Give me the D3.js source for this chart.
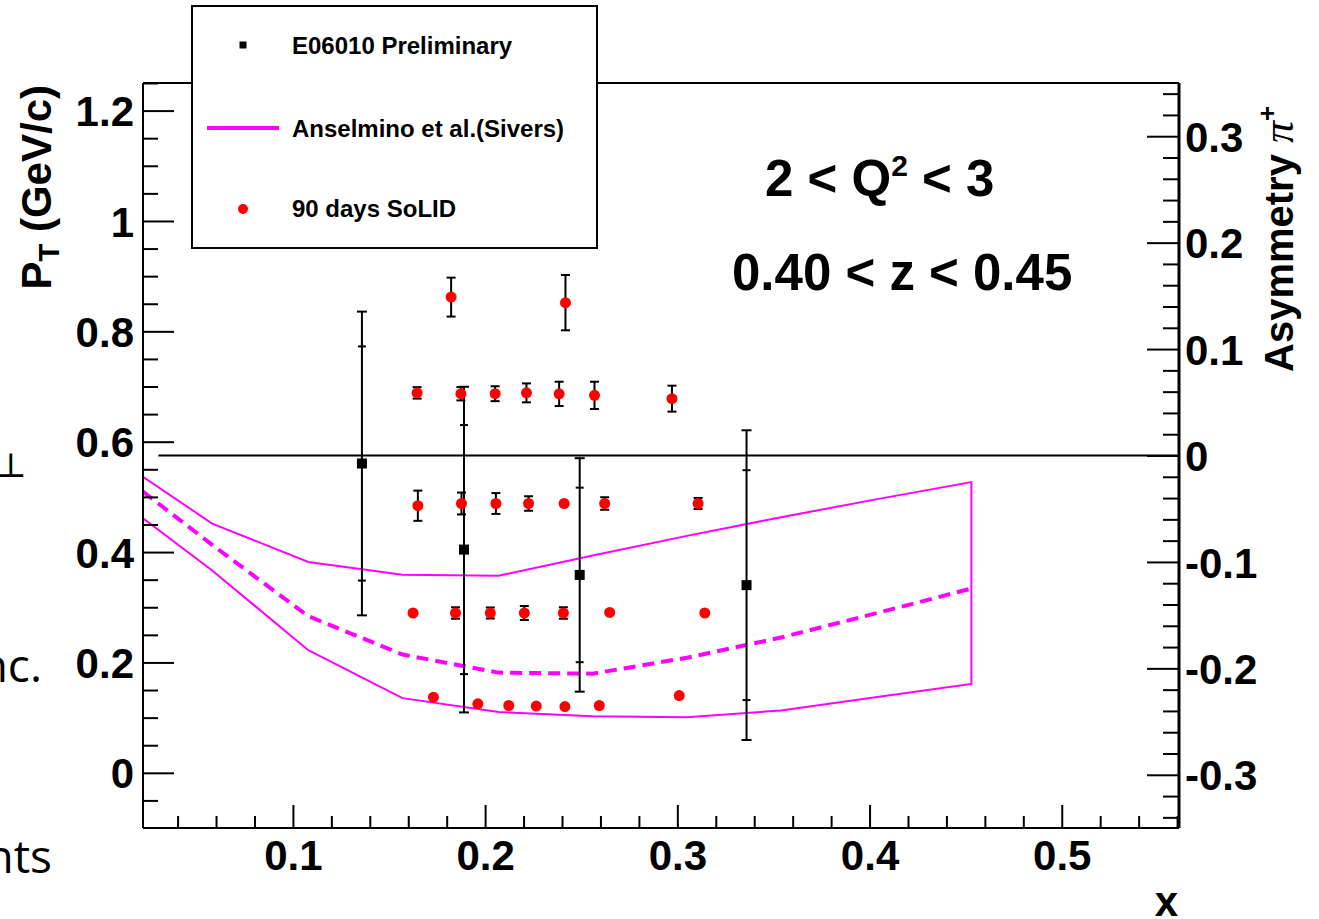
<!DOCTYPE html>
<html>
<head>
<meta charset="utf-8">
<script src="https://cdn.jsdelivr.net/npm/d3@7"></script>
<style>
  html, body { margin: 0; padding: 0; background: #fff; }
  svg { display: block; }
  text { font-family: "Liberation Sans", Arial, sans-serif; font-weight: bold; }
</style>
</head>
<body>
<svg id="chart" width="1319" height="919"></svg>
<script>
// tick values
const xMajorTicks = [0.1, 0.2, 0.3, 0.4, 0.5];
const ptMajorTicks = [0, 0.2, 0.4, 0.6, 0.8, 1, 1.2];
const asymMajorTicks = [-0.3, -0.2, -0.1, 0, 0.1, 0.2, 0.3];

// Anselmino et al. (Sivers) band, asymmetry vs x
const bandX = [0.022, 0.058, 0.108, 0.157, 0.207, 0.256, 0.305, 0.354, 0.404, 0.453];
const bandUpper = [-0.020, -0.064, -0.100, -0.112, -0.113, -0.094, -0.0755, -0.058, -0.041, -0.025];
const bandLower = [-0.059, -0.108, -0.183, -0.228, -0.241, -0.245, -0.246, -0.2395, -0.227, -0.2146];
const bandCentral = [-0.034, -0.084, -0.151, -0.187, -0.204, -0.205, -0.190, -0.171, -0.148, -0.125];

// E06010 preliminary (asymmetry axis)
const e06X = [0.1359, 0.1890, 0.2492, 0.3360];
const e06Asym = [-0.0075, -0.0884, -0.1122, -0.1218];
const e06Stat = [0.110, 0.117, 0.082, 0.108];
const e06Total = [0.1427, 0.153, 0.1097, 0.1455];

// 90 days SoLID projections: placed at P_T, error in asymmetry units
const solidX = [
  0.1823, 0.2418,
  0.1646, 0.1874, 0.2052, 0.2215, 0.2385, 0.2569, 0.2972,
  0.1650, 0.1877, 0.2056, 0.2226, 0.2411, 0.2622, 0.3108,
  0.1625, 0.1846, 0.2027, 0.2204, 0.2407, 0.2648, 0.3143,
  0.1731, 0.1962, 0.2123, 0.2266, 0.2415, 0.2594, 0.3010
];
const solidPt = [
  0.862, 0.852,
  0.6885, 0.687, 0.687, 0.6885, 0.6867, 0.684, 0.678,
  0.484, 0.488, 0.488, 0.488, 0.488, 0.488, 0.488,
  0.2896, 0.2896, 0.2896, 0.2896, 0.2896, 0.2907, 0.2896,
  0.137, 0.125, 0.122, 0.121, 0.120, 0.122, 0.140
];
const solidErr = [
  0.0183, 0.026,
  0.0054, 0.0063, 0.007, 0.0089, 0.0114, 0.0128, 0.0122,
  0.0142, 0.0103, 0.0098, 0.0068, 0.0047, 0.0059, 0.0052,
  0.002, 0.0054, 0.0052, 0.0066, 0.0054, 0.002, 0.002,
  0.002, 0.002, 0.002, 0.002, 0.002, 0.002, 0.002
];

const zeroLineStart = 0.03;

const frame = { left: 143, right: 1179, top: 83, bottom: 828 };
const magenta = "#ff00ff";
const red = "#ff0000";

const svg = d3.select("#chart");
svg.append("rect").attr("width", 1319).attr("height", 919).attr("fill", "#fff");

const x = d3.scaleLinear().domain([0.022, 0.561]).range([frame.left, frame.right]);
const yPt = d3.scaleLinear().domain([-0.1, 1.25]).range([frame.bottom, frame.top]);
const yAsym = d3.scaleLinear().domain([-0.35, 0.35]).range([frame.bottom, frame.top]);

// slide text peeking in from the left edge (cut off in the original too)
svg.append("text").attr("x", 42).attr("y", 682).attr("text-anchor", "end")
  .style("font-family", "'Open Sans', sans-serif").style("font-weight", "normal")
  .attr("font-size", 46).text("nc.");
svg.append("text").attr("x", 52).attr("y", 873).attr("text-anchor", "end")
  .style("font-family", "'Open Sans', sans-serif").style("font-weight", "normal")
  .attr("font-size", 46).text("nts");
svg.append("text").attr("x", -5).attr("y", 477)
  .style("font-family", "'DejaVu Serif', serif").style("font-weight", "normal")
  .attr("font-size", 34).text("⊥");

svg.append("clipPath").attr("id", "plot-clip")
  .append("rect")
  .attr("x", frame.left).attr("y", frame.top)
  .attr("width", frame.right - frame.left).attr("height", frame.bottom - frame.top);

const plot = svg.append("g").attr("clip-path", "url(#plot-clip)");

// theory band outline
const bandPts = bandX.map((d, i) => [x(d), yAsym(bandUpper[i])])
  .concat(bandX.map((d, i) => [x(d), yAsym(bandLower[i])]).reverse());
plot.append("path")
  .attr("d", d3.line()(bandPts) + "Z")
  .attr("fill", "none")
  .attr("stroke", magenta)
  .attr("stroke-width", 2);

plot.append("path")
  .attr("d", d3.line()(bandX.map((d, i) => [x(d), yAsym(bandCentral[i])])))
  .attr("fill", "none")
  .attr("stroke", magenta)
  .attr("stroke-width", 4)
  .attr("stroke-dasharray", "12,7");

// zero asymmetry line
plot.append("line")
  .attr("x1", x(zeroLineStart)).attr("x2", frame.right)
  .attr("y1", yAsym(0)).attr("y2", yAsym(0))
  .attr("stroke", "#000").attr("stroke-width", 2);

// E06010 error bars
const asymPx = (v) => yAsym(0) - yAsym(v);
const e06 = e06X.map((d, i) => ({ x: d, y: e06Asym[i], stat: e06Stat[i], tot: e06Total[i] }));
const e06g = plot.append("g").selectAll("g").data(e06).join("g")
  .attr("transform", (d) => `translate(${x(d.x)},${yAsym(d.y)})`);
e06g.append("line")
  .attr("y1", (d) => -asymPx(d.tot)).attr("y2", (d) => asymPx(d.tot))
  .attr("stroke", "#000").attr("stroke-width", 2);
[-1, 1].forEach((s) => {
  e06g.append("line")
    .attr("x1", -5).attr("x2", 5)
    .attr("y1", (d) => s * asymPx(d.tot)).attr("y2", (d) => s * asymPx(d.tot))
    .attr("stroke", "#000").attr("stroke-width", 2);
  e06g.append("line")
    .attr("x1", -4).attr("x2", 4)
    .attr("y1", (d) => s * asymPx(d.stat)).attr("y2", (d) => s * asymPx(d.stat))
    .attr("stroke", "#000").attr("stroke-width", 2);
});

// SoLID error bars and markers
const solid = solidX.map((d, i) => ({ x: d, pt: solidPt[i], err: solidErr[i] }));
const rDot = 5.5;
const solidg = plot.append("g").selectAll("g").data(solid).join("g")
  .attr("transform", (d) => `translate(${x(d.x)},${yPt(d.pt)})`);
solidg.filter((d) => asymPx(d.err) > rDot)
  .call((g) => g.append("line")
    .attr("y1", (d) => -asymPx(d.err)).attr("y2", (d) => asymPx(d.err))
    .attr("stroke", "#000").attr("stroke-width", 2))
  .call((g) => [-1, 1].forEach((s) => g.append("line")
    .attr("x1", -4.5).attr("x2", 4.5)
    .attr("y1", (d) => s * asymPx(d.err)).attr("y2", (d) => s * asymPx(d.err))
    .attr("stroke", "#000").attr("stroke-width", 2)));

e06g.append("rect")
  .attr("x", -5).attr("y", -5).attr("width", 10).attr("height", 10)
  .attr("fill", "#000");

solidg.append("circle").attr("r", rDot).attr("fill", red);

// frame
const axisG = svg.append("g");
axisG.append("line").attr("x1", frame.left).attr("x2", frame.right)
  .attr("y1", frame.top).attr("y2", frame.top).attr("stroke", "#000").attr("stroke-width", 2);
axisG.append("line").attr("x1", frame.left).attr("x2", frame.right)
  .attr("y1", frame.bottom).attr("y2", frame.bottom).attr("stroke", "#000").attr("stroke-width", 2);
axisG.append("line").attr("x1", frame.left).attr("x2", frame.left)
  .attr("y1", frame.top).attr("y2", frame.bottom).attr("stroke", "#000").attr("stroke-width", 2);
axisG.append("line").attr("x1", frame.right).attr("x2", frame.right)
  .attr("y1", frame.top).attr("y2", frame.bottom).attr("stroke", "#000").attr("stroke-width", 3);

function styleAxis(g) {
  g.select(".domain").remove();
  g.selectAll(".tick line").attr("stroke", "#000").attr("stroke-width", 2);
  g.selectAll(".tick text")
    .attr("fill", "#000")
    .attr("font-size", 42)
    .style("font-family", "'Liberation Sans', Arial, sans-serif")
    .style("font-weight", "bold");
}

// bottom x axis
const xMinor = d3.range(0.04, 0.561, 0.02).filter((v) => Math.abs(v * 10 - Math.round(v * 10)) > 1e-6);
svg.append("g").attr("transform", `translate(0,${frame.bottom})`)
  .call(d3.axisBottom(x).tickValues(xMinor).tickSizeInner(-12).tickSizeOuter(0).tickFormat(""))
  .call(styleAxis);
svg.append("g").attr("transform", `translate(0,${frame.bottom})`)
  .call(d3.axisBottom(x).tickValues(xMajorTicks).tickSizeInner(-23).tickSizeOuter(0)
    .tickPadding(10).tickFormat((d) => String(d)))
  .call(styleAxis)
  .call((g) => g.selectAll(".tick text").attr("dy", null).attr("y", 42));

// left P_T axis
const ptMinor = d3.range(-0.05, 1.251, 0.05).filter((v) => Math.abs(v * 5 - Math.round(v * 5)) > 1e-6);
svg.append("g").attr("transform", `translate(${frame.left},0)`)
  .call(d3.axisLeft(yPt).tickValues(ptMinor).tickSizeInner(-15).tickSizeOuter(0).tickFormat(""))
  .call(styleAxis);
svg.append("g").attr("transform", `translate(${frame.left},0)`)
  .call(d3.axisLeft(yPt).tickValues(ptMajorTicks).tickSizeInner(-31).tickSizeOuter(0)
    .tickPadding(9).tickFormat((d) => String(d)))
  .call(styleAxis)
  .call((g) => g.selectAll(".tick text").attr("dy", "0.36em"));

// right asymmetry axis
const asymMinor = d3.range(-0.34, 0.35, 0.02).filter((v) => Math.abs(v * 10 - Math.round(v * 10)) > 1e-6);
svg.append("g").attr("transform", `translate(${frame.right},0)`)
  .call(d3.axisRight(yAsym).tickValues(asymMinor).tickSizeInner(-16).tickSizeOuter(0).tickFormat(""))
  .call(styleAxis);
svg.append("g").attr("transform", `translate(${frame.right},0)`)
  .call(d3.axisRight(yAsym).tickValues(asymMajorTicks).tickSizeInner(-32).tickSizeOuter(0)
    .tickPadding(6).tickFormat((d) => String(d)))
  .call(styleAxis)
  .call((g) => g.selectAll(".tick text").attr("dy", "0.36em"));

// axis titles
const ptTitle = svg.append("text")
  .attr("transform", "translate(51,85) rotate(-90)")
  .attr("text-anchor", "end").attr("font-size", 42);
ptTitle.append("tspan").text("P");
ptTitle.append("tspan").attr("font-size", 29).attr("dy", 8).text("T");
ptTitle.append("tspan").attr("dy", -8).text(" (GeV/c)");

const asymTitle = svg.append("text")
  .attr("transform", "translate(1293,372) rotate(-90)")
  .attr("font-size", 40);
asymTitle.append("tspan").text("Asymmetry ");
asymTitle.append("tspan")
  .style("font-family", "'Liberation Serif', 'DejaVu Serif', serif")
  .style("font-style", "italic").style("font-weight", "normal")
  .attr("font-size", 44).text("π");
asymTitle.append("tspan").attr("font-size", 26).attr("dy", -17).text("+");

svg.append("text").attr("x", 1178).attr("y", 916).attr("text-anchor", "end")
  .attr("font-size", 42).text("x");

// kinematic labels
const qText = svg.append("text").attr("x", 765).attr("y", 196).attr("font-size", 51);
qText.append("tspan").text("2 < Q");
qText.append("tspan").attr("font-size", 30).attr("dy", -20).text("2");
qText.append("tspan").attr("dy", 20).text(" < 3");
svg.append("text").attr("x", 732).attr("y", 290).attr("font-size", 51).text("0.40 < z < 0.45");

// legend
const legend = svg.append("g");
legend.append("rect")
  .attr("x", 192).attr("y", 6).attr("width", 405).attr("height", 242)
  .attr("fill", "#fff").attr("stroke", "#000").attr("stroke-width", 2);
legend.append("rect").attr("x", 239.5).attr("y", 41.5).attr("width", 7).attr("height", 7).attr("fill", "#000");
legend.append("line").attr("x1", 207).attr("x2", 279).attr("y1", 128).attr("y2", 128)
  .attr("stroke", magenta).attr("stroke-width", 4);
legend.append("circle").attr("cx", 243).attr("cy", 209).attr("r", 5).attr("fill", red);
const legendLabels = ["E06010 Preliminary", "Anselmino et al.(Sivers)", "90 days SoLID"];
const legendY = [45, 128, 208];
legend.selectAll("text.lab").data(legendLabels).join("text")
  .attr("class", "lab")
  .attr("x", 292).attr("y", (d, i) => legendY[i]).attr("dy", "0.36em")
  .attr("font-size", 24).text((d) => d);
</script>
</body>
</html>
